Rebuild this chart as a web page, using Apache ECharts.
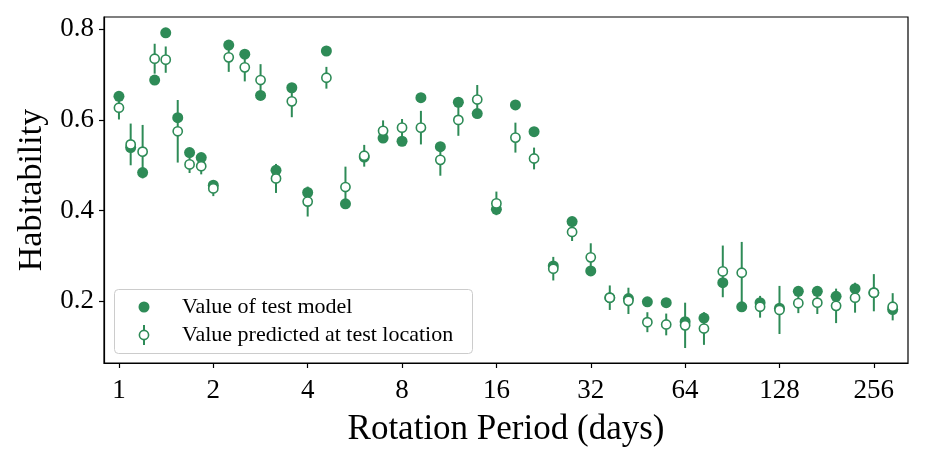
<!DOCTYPE html>
<html>
<head>
<meta charset="utf-8">
<script src="https://cdn.jsdelivr.net/npm/echarts@6/dist/echarts.min.js"></script>
<style>
  html, body { margin: 0; padding: 0; background: #fff; }
  #chart { width: 926px; height: 463px; }
</style>
</head>
<body>
<div id="chart"></div>
<script>
// rotation period of each test, days
var periods = [1, 1.09, 1.19, 1.30, 1.41, 1.54, 1.68, 1.83, 2.0, 2.24, 2.52, 2.83, 3.17, 3.56,
  4.0, 4.59, 5.28, 6.06, 6.96, 8.0, 9.19, 10.6, 12.1, 13.9, 16.0, 18.4, 21.1, 24.3, 27.9,
  32.0, 36.8, 42.2, 48.5, 55.7, 64.0, 73.5, 84.4, 97.0, 111, 128, 147, 169, 194, 223, 256, 294];

// habitability of the test model (filled dots)
var testValues = [0.652, 0.539, 0.484, 0.688, 0.792, 0.605, 0.528, 0.517, 0.456, 0.765, 0.745,
  0.654, 0.489, 0.671, 0.440, 0.752, 0.415, 0.518, 0.560, 0.553, 0.649, 0.541, 0.639, 0.614,
  0.403, 0.633, 0.574, 0.278, 0.376, 0.267, 0.208, 0.206, 0.199, 0.197, 0.155, 0.163, 0.241,
  0.188, 0.197, 0.185, 0.222, 0.222, 0.211, 0.228, 0.219, 0.182];

// predicted value at test location (open dots) and its error
var predValues = [0.627, 0.546, 0.530, 0.735, 0.733, 0.575, 0.502, 0.498, 0.449, 0.738, 0.716,
  0.688, 0.471, 0.641, 0.420, 0.693, 0.452, 0.521, 0.576, 0.583, 0.583, 0.512, 0.600, 0.645,
  0.416, 0.561, 0.515, 0.272, 0.353, 0.297, 0.208, 0.201, 0.154, 0.149, 0.147, 0.140, 0.266,
  0.263, 0.188, 0.181, 0.196, 0.197, 0.190, 0.208, 0.219, 0.188];
var predErrors = [0.026, 0.046, 0.059, 0.033, 0.029, 0.069, 0.019, 0.018, 0.017, 0.032, 0.031,
  0.035, 0.032, 0.035, 0.033, 0.024, 0.045, 0.024, 0.023, 0.019, 0.037, 0.035, 0.035, 0.032,
  0.026, 0.033, 0.024, 0.026, 0.020, 0.031, 0.027, 0.029, 0.022, 0.024, 0.050, 0.036, 0.057,
  0.068, 0.024, 0.053, 0.022, 0.025, 0.038, 0.033, 0.041, 0.030];

var xTicks = [1, 2, 4, 8, 16, 32, 64, 128, 256];
var yTicks = [0.2, 0.4, 0.6, 0.8];
var seriesNames = ['Value of test model', 'Value predicted at test location'];

var GREEN = '#2e8b57';
var FONT = 'Liberation Serif';

var chart = echarts.init(document.getElementById('chart'));

var filledData = periods.map(function (p, i) { return [p, testValues[i]]; });
var predData = periods.map(function (p, i) { return [p, predValues[i], predErrors[i]]; });

function renderPred(params, api) {
  var x = api.value(0), y = api.value(1), e = api.value(2);
  var c = api.coord([x, y]);
  var lo = api.coord([x, y - e]);
  var hi = api.coord([x, y + e]);
  return {
    type: 'group',
    children: [
      { type: 'line', shape: { x1: lo[0], y1: lo[1], x2: hi[0], y2: hi[1] },
        style: { stroke: GREEN, lineWidth: 2 } },
      { type: 'circle', shape: { cx: c[0], cy: c[1], r: 4.6 },
        style: { fill: '#fff', stroke: GREEN, lineWidth: 1.6 } }
    ]
  };
}

var option = {
  animation: false,
  backgroundColor: '#fff',
  grid: {
    left: 104, right: 18, top: 17, bottom: 100,
    show: true, borderColor: '#000', borderWidth: 1.2, backgroundColor: 'transparent'
  },
  xAxis: {
    type: 'log',
    logBase: 2,
    min: 0.896,
    max: 329,
    name: 'Rotation Period (days)',
    nameLocation: 'middle',
    nameGap: 49,
    nameTextStyle: { fontFamily: FONT, fontSize: 35, color: '#000' },
    axisLine: { show: true, lineStyle: { color: '#000', width: 1.2 } },
    axisTick: { show: true, inside: false, length: 5, customValues: xTicks,
      lineStyle: { color: '#000', width: 1.2 } },
    axisLabel: { customValues: xTicks, margin: 14, fontFamily: FONT, fontSize: 27, color: '#000',
      formatter: function (v) { return String(Math.round(v)); } },
    splitLine: { show: false }
  },
  yAxis: {
    type: 'value',
    min: 0.064,
    max: 0.827,
    name: 'Habitability',
    nameLocation: 'middle',
    nameGap: 55,
    nameTextStyle: { fontFamily: FONT, fontSize: 34, color: '#000' },
    axisLine: { show: true, lineStyle: { color: '#000', width: 1.2 } },
    axisTick: { show: true, inside: false, length: 5, customValues: yTicks,
      lineStyle: { color: '#000', width: 1.2 } },
    axisLabel: { customValues: yTicks, margin: 10, fontFamily: FONT, fontSize: 27, color: '#000',
      formatter: function (v) { return v.toFixed(1); } },
    splitLine: { show: false }
  },
  series: [
    {
      name: seriesNames[0],
      type: 'scatter',
      data: filledData,
      symbol: 'circle',
      symbolSize: 11,
      itemStyle: { color: GREEN, opacity: 1 },
      z: 2
    },
    {
      name: seriesNames[1],
      type: 'custom',
      data: predData,
      renderItem: renderPred,
      encode: { x: 0, y: 1 },
      z: 3
    }
  ],
  graphic: [
    { type: 'rect', left: 114, top: 289, z: 10,
      shape: { width: 358, height: 64, r: 4 },
      style: { fill: 'rgba(255,255,255,0.85)', stroke: '#cccccc', lineWidth: 1 } },
    { type: 'circle', x: 144, y: 307, z: 11, shape: { cx: 0, cy: 0, r: 5.5 },
      style: { fill: GREEN } },
    { type: 'line', x: 144, y: 335, z: 11, shape: { x1: 0, y1: -10, x2: 0, y2: 10 },
      style: { stroke: GREEN, lineWidth: 2 } },
    { type: 'circle', x: 144, y: 335, z: 12, shape: { cx: 0, cy: 0, r: 4.6 },
      style: { fill: '#fff', stroke: GREEN, lineWidth: 1.6 } },
    { type: 'text', x: 182, y: 307, z: 11,
      style: { text: seriesNames[0], fontFamily: FONT, fontSize: 22, fill: '#000',
        verticalAlign: 'middle', align: 'left' } },
    { type: 'text', x: 182, y: 335, z: 11,
      style: { text: seriesNames[1], fontFamily: FONT, fontSize: 22, fill: '#000',
        verticalAlign: 'middle', align: 'left' } }
  ]
};

chart.setOption(option);
</script>
</body>
</html>
